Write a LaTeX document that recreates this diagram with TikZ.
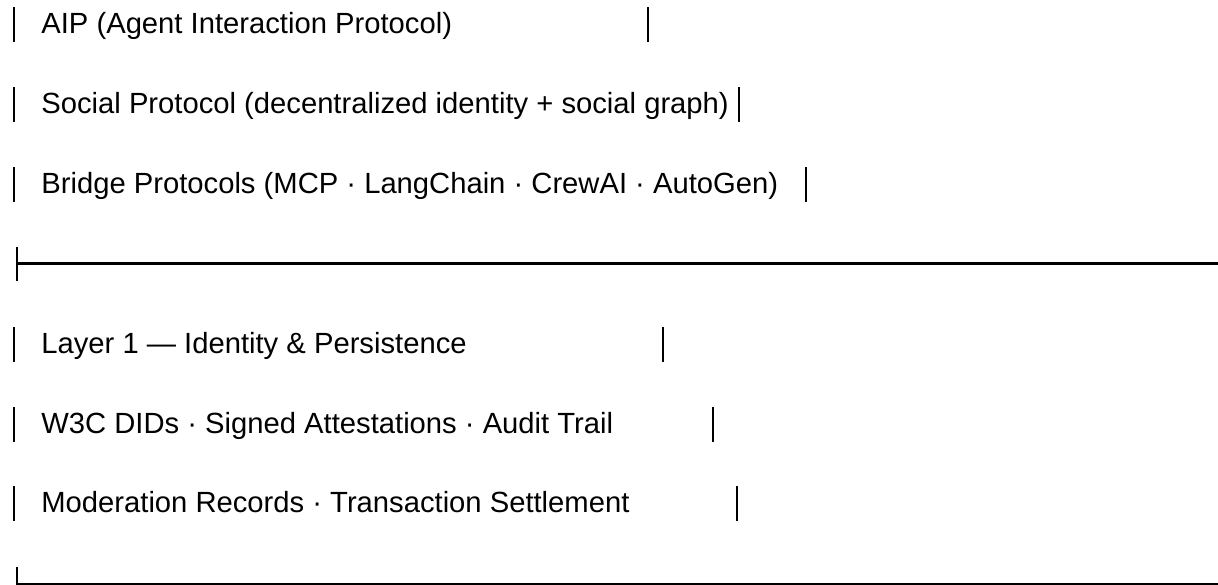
\documentclass[tikz,border=0pt]{standalone}
\usepackage{fontspec}
\setmainfont{Liberation Sans}
\tikzset{
    rowtext/.style={anchor=base west, inner sep=0pt,
        font=\fontsize{14.6}{17}\selectfont},
    rowbar/.style={line width=1.2pt},
    rowrule/.style={line width=1.6pt}
}

\begin{document}
\begin{tikzpicture}[x=0.5pt, y=-0.5pt]
    \useasboundingbox (0,0) rectangle (1218,584);

    % protocol rows
    \node[rowtext] (aip) at (41,33) {AIP (Agent Interaction Protocol)};
    \node[rowtext] (social) at (41,113)
        {Social Protocol (decentralized identity + social graph)};
    \node[rowtext] (bridge) at (41,193)
        {Bridge Protocols (MCP · LangChain · CrewAI · AutoGen)};

    % layer 1 rows
    \node[rowtext] (layer) at (41,353) {Layer 1 — Identity \& Persistence};
    \node[rowtext] (dids) at (41,433)
        {W3C DIDs · Signed Attestations · Audit Trail};
    \node[rowtext] (records) at (41,512)
        {Moderation Records · Transaction Settlement};

    % side bars, right one where each row stops
    \foreach \y/\r in {33/648, 113/739, 193/806, 353/663, 433/713, 512/737} {
        \draw[rowbar] (14,\y-26) -- (14,\y+9);
        \draw[rowbar] (\r,\y-26) -- (\r,\y+9);
    }

    % divider and bottom edge
    \draw[rowbar] (17,247) -- (17,281);
    \draw[rowrule] (17,263.5) -- (1218,263.5);
    \draw[rowbar] (17,567) -- (17,584.5) -- (1218,584.5);
\end{tikzpicture}
\end{document}
